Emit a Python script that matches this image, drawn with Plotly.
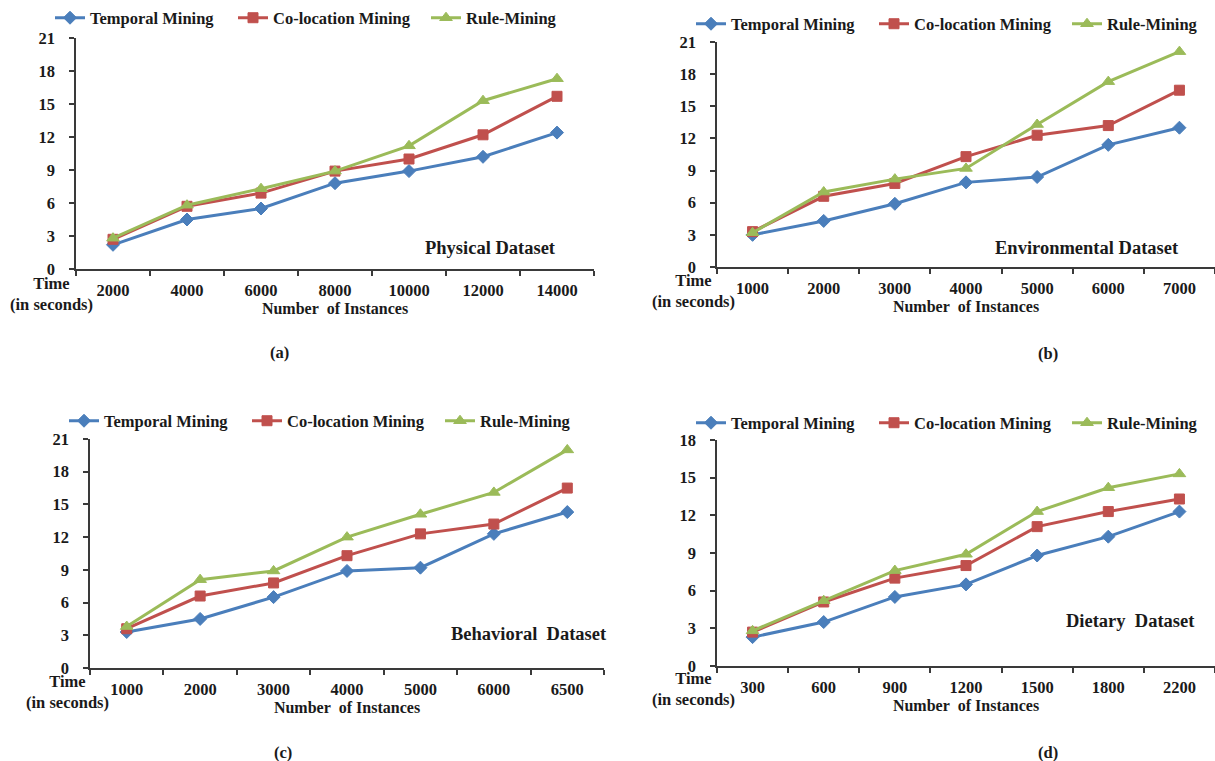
import plotly.graph_objects as go

W, H = 1215, 761

series_names = ["Temporal Mining", "Co-location Mining", "Rule-Mining"]

phys_x = ["2000", "4000", "6000", "8000", "10000", "12000", "14000"]
phys_temporal = [2.2, 4.5, 5.5, 7.8, 8.9, 10.2, 12.4]
phys_coloc = [2.7, 5.7, 6.9, 8.9, 10.0, 12.2, 15.7]
phys_rule = [2.8, 5.8, 7.3, 8.9, 11.2, 15.3, 17.3]

env_x = ["1000", "2000", "3000", "4000", "5000", "6000", "7000"]
env_temporal = [3.0, 4.3, 5.9, 7.9, 8.4, 11.4, 13.0]
env_coloc = [3.3, 6.6, 7.8, 10.3, 12.3, 13.2, 16.5]
env_rule = [3.2, 7.0, 8.2, 9.2, 13.3, 17.3, 20.1]

beh_x = ["1000", "2000", "3000", "4000", "5000", "6000", "6500"]
beh_temporal = [3.3, 4.5, 6.5, 8.9, 9.2, 12.3, 14.3]
beh_coloc = [3.6, 6.6, 7.8, 10.3, 12.3, 13.2, 16.5]
beh_rule = [3.8, 8.1, 8.9, 12.0, 14.1, 16.1, 20.0]

diet_x = ["300", "600", "900", "1200", "1500", "1800", "2200"]
diet_temporal = [2.3, 3.5, 5.5, 6.5, 8.8, 10.3, 12.3]
diet_coloc = [2.7, 5.1, 7.0, 8.0, 11.1, 12.3, 13.3]
diet_rule = [2.8, 5.2, 7.6, 8.9, 12.3, 14.2, 15.3]

y_ticks_21 = [0, 3, 6, 9, 12, 15, 18, 21]
y_ticks_18 = [0, 3, 6, 9, 12, 15, 18]

dataset_labels = ["Physical Dataset", "Environmental Dataset",
                  "Behavioral\u00a0 Dataset", "Dietary\u00a0 Dataset"]
panel_labels = ["(a)", "(b)", "(c)", "(d)"]

panels = [
    dict(x=phys_x, ys=[phys_temporal, phys_coloc, phys_rule], ymax=21, yt=y_ticks_21,
         px=(76, 594), py=(269, 38), leg=(50, 18), ds=(490, 248), pl=(279, 352), tl=(51, 294)),
    dict(x=env_x, ys=[env_temporal, env_coloc, env_rule], ymax=21, yt=y_ticks_21,
         px=(717, 1215), py=(267, 42), leg=(691, 24), ds=(1087, 248), pl=(1048, 353), tl=(693, 291)),
    dict(x=beh_x, ys=[beh_temporal, beh_coloc, beh_rule], ymax=21, yt=y_ticks_21,
         px=(90, 604), py=(668, 439), leg=(64, 421), ds=(529, 634), pl=(283, 752), tl=(67, 692)),
    dict(x=diet_x, ys=[diet_temporal, diet_coloc, diet_rule], ymax=18, yt=y_ticks_18,
         px=(717, 1215), py=(666, 440), leg=(691, 423), ds=(1130, 621), pl=(1048, 752), tl=(693, 689)),
]

colors = ["#4A7EBB", "#C0504D", "#9BBB59"]
symbols = ["diamond", "square", "triangle-up"]
msizes = [10, 10, 11]
leg_widths = [138, 148, 100]

FONT = "Liberation Serif"
TXT = "#1a1a1a"
AX = "#3a3a3a"

fig = go.Figure()
layout = dict(
    width=W, height=H, margin=dict(l=0, r=0, t=0, b=0, autoexpand=False),
    paper_bgcolor="white", plot_bgcolor="white",
    font=dict(family=FONT, size=16, color=TXT),
    annotations=[],
)

for i, p in enumerate(panels):
    n = "" if i == 0 else str(i + 1)
    legname = "legend" if i == 0 else f"legend{i + 1}"
    for s in range(3):
        fig.add_trace(go.Scatter(
            x=p["x"], y=p["ys"][s], name=series_names[s], mode="lines+markers",
            line=dict(color=colors[s], width=3),
            marker=dict(symbol=symbols[s], size=msizes[s], color=colors[s],
                        line=dict(color=colors[s], width=1)),
            xaxis=f"x{n}", yaxis=f"y{n}", legend=legname, legendwidth=leg_widths[s],
        ))
    x0, x1 = p["px"]
    yb, yt = p["py"]
    layout[f"xaxis{n}"] = dict(
        domain=[x0 / W, x1 / W], anchor=f"y{n}", type="category",
        range=[-0.5, 6.5], showline=True, linecolor=AX, linewidth=1.5,
        ticks="outside", tickson="boundaries", ticklen=5, tickcolor=AX, tickwidth=1.5,
        showgrid=False, zeroline=False, ticklabelstandoff=5,
        tickfont=dict(family=FONT, size=16.5, color=TXT, weight="bold"),
        title=dict(text="Number\u00a0 of Instances", standoff=1,
                   font=dict(family=FONT, size=16, color=TXT, weight="bold")),
        fixedrange=True,
    )
    layout[f"yaxis{n}"] = dict(
        domain=[1 - yb / H, 1 - yt / H], anchor=f"x{n}",
        range=[0, p["ymax"]], tickvals=p["yt"], showline=True, linecolor=AX, linewidth=1.5,
        ticks="outside", ticklen=5, tickcolor=AX, tickwidth=1.5,
        showgrid=False, zeroline=False, ticklabelstandoff=11,
        tickfont=dict(family=FONT, size=16.5, color=TXT, weight="bold"),
        fixedrange=True,
    )
    lx, ly = p["leg"]
    layout[legname] = dict(
        orientation="h", x=lx / W, y=1 - ly / H, xanchor="left", yanchor="middle",
        xref="paper", yref="paper", bgcolor="rgba(0,0,0,0)",
        font=dict(family=FONT, size=16.5, color=TXT, weight="bold"),
        itemwidth=30, tracegroupgap=0,
    )
    dx, dy = p["ds"]
    layout["annotations"].append(dict(
        text=dataset_labels[i], x=dx / W, y=1 - dy / H, xref="paper", yref="paper",
        showarrow=False, xanchor="center", yanchor="middle",
        font=dict(family=FONT, size=18.5, color=TXT, weight="bold")))
    qx, qy = p["pl"]
    layout["annotations"].append(dict(
        text=panel_labels[i], x=qx / W, y=1 - qy / H, xref="paper", yref="paper",
        showarrow=False, xanchor="center", yanchor="middle",
        font=dict(family=FONT, size=16.5, color=TXT, weight="bold")))
    tx, ty = p["tl"]
    layout["annotations"].append(dict(
        text="Time<br>(in seconds)", x=tx / W, y=1 - ty / H, xref="paper", yref="paper",
        showarrow=False, xanchor="center", yanchor="middle", align="center",
        font=dict(family=FONT, size=16.5, color=TXT, weight="bold")))

fig.update_layout(**layout)
fig.write_html("out.html", config={"displayModeBar": False})
